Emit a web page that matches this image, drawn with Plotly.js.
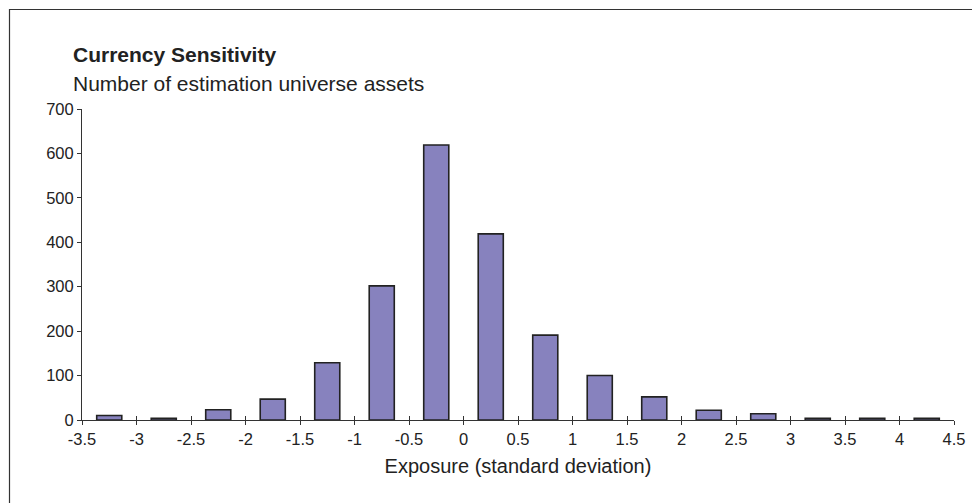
<!DOCTYPE html>
<html>
<head>
<meta charset="utf-8">
<script src="https://cdn.plot.ly/plotly-3.0.1.min.js"></script>
<style>html,body{margin:0;padding:0;background:#fff;}#chart{width:972px;height:503px;}</style>
</head>
<body>
<div id="chart"></div>
<script>
const binCenters = [-3.25, -2.75, -2.25, -1.75, -1.25, -0.75, -0.25, 0.25, 0.75, 1.25, 1.75, 2.25, 2.75, 3.25, 3.75, 4.25];
const counts = [10, 4, 23, 47, 129, 302, 619, 419, 191, 100, 52, 22, 14, 4, 4, 4];
const xTicks = [-3.5, -3, -2.5, -2, -1.5, -1, -0.5, 0, 0.5, 1, 1.5, 2, 2.5, 3, 3.5, 4, 4.5];
const yTicks = [0, 100, 200, 300, 400, 500, 600, 700];
const chartTitle = 'Currency Sensitivity';
const chartSubtitle = 'Number of estimation universe assets';
const xTitle = 'Exposure (standard deviation)';

const font = 'Liberation Sans, Arial, sans-serif';
const trace = {
  type: 'bar', x: binCenters, y: counts, width: 0.23,
  marker: {color: '#8782BE', line: {color: '#222222', width: 1.6}},
  hoverinfo: 'x+y'
};
const ghost = {type: 'scatter', x: [-3.5], y: [0], xaxis: 'x2', mode: 'none', showlegend: false, hoverinfo: 'skip'};
const W = 972, H = 503, L = 82, R = 18, T = 109, B = 83;
const pw = W - L - R, ph = H - T - B;
const px = v => (v - L) / pw;
const py = v => 1 - (v - T) / ph;
const layout = {
  width: W, height: H,
  margin: {l: L, r: R, t: T, b: B, pad: 0},
  paper_bgcolor: '#ffffff', plot_bgcolor: '#ffffff',
  showlegend: false, bargap: 0,
  font: {family: font, color: '#222222', size: 16.5},
  xaxis: {
    range: [-3.5, 4.5], tickvals: xTicks, ticktext: xTicks.map(String),
    showgrid: false, zeroline: false, showline: true, linecolor: '#333333', linewidth: 1,
    ticks: 'outside', ticklen: 4, tickcolor: '#333333', tickwidth: 1,
    tickfont: {family: font, size: 16.5, color: '#222222'},
    title: {text: xTitle, font: {family: font, size: 20, color: '#222222'}, standoff: 12}
  },
  xaxis2: {
    overlaying: 'x', anchor: 'y', range: [-3.5, 4.5], tickvals: xTicks, showticklabels: false,
    showgrid: false, zeroline: false, showline: false,
    ticks: 'inside', ticklen: 4, tickcolor: '#333333', tickwidth: 1
  },
  yaxis: {
    range: [0, 700], tickvals: yTicks, ticktext: yTicks.map(String),
    showgrid: false, zeroline: false, showline: true, linecolor: '#333333', linewidth: 1,
    ticks: 'outside', ticklen: 4, tickcolor: '#333333', tickwidth: 1,
    tickfont: {family: font, size: 16.5, color: '#222222'}
  },
  annotations: [
    {xref: 'paper', yref: 'paper', x: px(71), y: py(55), xanchor: 'left', yanchor: 'middle', showarrow: false,
     text: '<b>' + chartTitle + '</b>', font: {family: font, size: 21, color: '#222222'}},
    {xref: 'paper', yref: 'paper', x: px(71), y: py(84), xanchor: 'left', yanchor: 'middle', showarrow: false,
     text: chartSubtitle, font: {family: font, size: 21, color: '#222222'}}
  ],
  shapes: [
    {type: 'path', xref: 'paper', yref: 'paper', path: 'M ' + px(9.5) + ' ' + py(510) + ' L ' + px(9.5) + ' ' + py(9.5) + ' L ' + px(980) + ' ' + py(9.5),
     line: {color: '#333333', width: 1.2}, layer: 'above'}
  ]
};
Plotly.newPlot('chart', [trace, ghost], layout, {displayModeBar: false, staticPlot: true});
</script>
</body>
</html>
